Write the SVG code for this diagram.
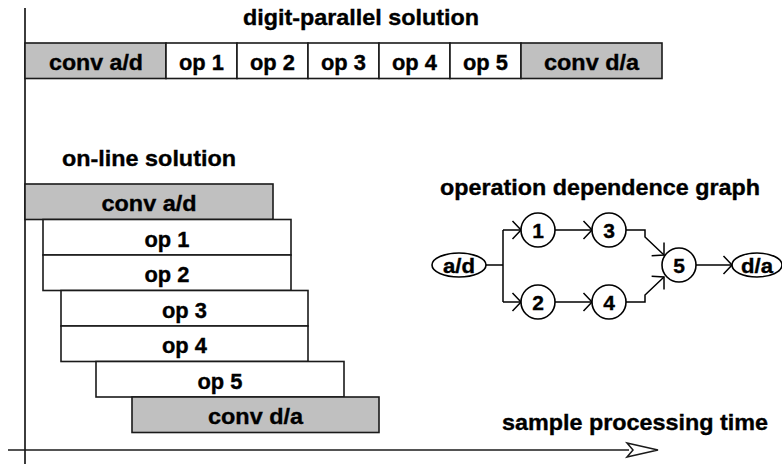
<svg xmlns="http://www.w3.org/2000/svg" width="782" height="464" viewBox="0 0 782 464">
  <style>
    text { font-family: "Liberation Sans", Arial, sans-serif; font-weight: bold; fill: #000; stroke: #000; stroke-width: 0.35; }
    .lbl { font-size: 21.5px; text-anchor: middle; }
    .ttl { font-size: 21.5px; text-anchor: middle; }
    .num { font-size: 21px; text-anchor: middle; }
    .cell { fill: #fff; stroke: #1a1a1a; stroke-width: 1.6; }
    .conv { fill: #c0c0c0; stroke: #1a1a1a; stroke-width: 1.6; }
    .axis { fill: none; stroke: #1a1a1a; stroke-width: 1.7; }
    .node { fill: #fff; stroke: #000; stroke-width: 1.6; }
    .edge { fill: none; stroke: #000; stroke-width: 1.5; }
  </style>
  <defs>
    <marker id="chev" markerUnits="userSpaceOnUse" markerWidth="20" markerHeight="22" viewBox="-10 -11 12 22" refX="0" refY="0" orient="auto">
      <path d="M-8.5,-9 L0,0 L-8.5,9" fill="none" stroke="#000" stroke-width="1.5"/>
    </marker>
  </defs>
  <rect width="782" height="464" fill="#fff"/>

  <!-- time axes -->
  <g id="axes">
    <line class="axis" x1="25" y1="8" x2="25" y2="464"/>
    <line class="axis" x1="8" y1="450" x2="629" y2="450"/>
    <path d="M627,443 L658,450 L627,457 L633,450 Z" fill="#fff" stroke="#1a1a1a" stroke-width="1.5" stroke-linejoin="miter"/>
    <text class="ttl" x="635" y="430" textLength="266" lengthAdjust="spacingAndGlyphs">sample processing time</text>
  </g>

  <!-- digit-parallel schedule: one row of consecutive stages -->
  <g id="digit-parallel">
    <text class="ttl" x="361" y="25" textLength="236" lengthAdjust="spacingAndGlyphs">digit-parallel solution</text>
    <g id="dp-conv-ad">
      <rect class="conv" x="25" y="43" width="141" height="35.5"/>
      <text class="lbl" x="96" y="70" textLength="94" lengthAdjust="spacingAndGlyphs">conv a/d</text>
    </g>
    <g id="dp-op1">
      <rect class="cell" x="166" y="43" width="71" height="35.5"/>
      <text class="lbl" x="201.5" y="70" textLength="45" lengthAdjust="spacingAndGlyphs">op 1</text>
    </g>
    <g id="dp-op2">
      <rect class="cell" x="237" y="43" width="71" height="35.5"/>
      <text class="lbl" x="272.5" y="70" textLength="45" lengthAdjust="spacingAndGlyphs">op 2</text>
    </g>
    <g id="dp-op3">
      <rect class="cell" x="308" y="43" width="71" height="35.5"/>
      <text class="lbl" x="343.5" y="70" textLength="45" lengthAdjust="spacingAndGlyphs">op 3</text>
    </g>
    <g id="dp-op4">
      <rect class="cell" x="379" y="43" width="71" height="35.5"/>
      <text class="lbl" x="414.5" y="70" textLength="45" lengthAdjust="spacingAndGlyphs">op 4</text>
    </g>
    <g id="dp-op5">
      <rect class="cell" x="450" y="43" width="71" height="35.5"/>
      <text class="lbl" x="485.5" y="70" textLength="45" lengthAdjust="spacingAndGlyphs">op 5</text>
    </g>
    <g id="dp-conv-da">
      <rect class="conv" x="521" y="43" width="141" height="35.5"/>
      <text class="lbl" x="591.5" y="70" textLength="95" lengthAdjust="spacingAndGlyphs">conv d/a</text>
    </g>
  </g>

  <!-- on-line schedule: overlapping staggered stages -->
  <g id="on-line">
    <text class="ttl" x="149" y="166" textLength="174" lengthAdjust="spacingAndGlyphs">on-line solution</text>
    <g id="ol-conv-ad">
      <rect class="conv" x="25" y="184" width="248" height="35.5"/>
      <text class="lbl" x="149" y="210.5" textLength="95" lengthAdjust="spacingAndGlyphs">conv a/d</text>
    </g>
    <g id="ol-op1">
      <rect class="cell" x="43" y="219.5" width="248" height="35.5"/>
      <text class="lbl" x="167" y="246.5" textLength="45" lengthAdjust="spacingAndGlyphs">op 1</text>
    </g>
    <g id="ol-op2">
      <rect class="cell" x="43" y="255" width="248" height="35.5"/>
      <text class="lbl" x="167" y="282" textLength="45" lengthAdjust="spacingAndGlyphs">op 2</text>
    </g>
    <g id="ol-op3">
      <rect class="cell" x="61" y="290.5" width="247" height="35.5"/>
      <text class="lbl" x="184.5" y="317.5" textLength="45" lengthAdjust="spacingAndGlyphs">op 3</text>
    </g>
    <g id="ol-op4">
      <rect class="cell" x="61" y="326" width="247" height="35.5"/>
      <text class="lbl" x="184.5" y="353" textLength="45" lengthAdjust="spacingAndGlyphs">op 4</text>
    </g>
    <g id="ol-op5">
      <rect class="cell" x="96" y="361.5" width="248" height="35.5"/>
      <text class="lbl" x="220" y="388.5" textLength="45" lengthAdjust="spacingAndGlyphs">op 5</text>
    </g>
    <g id="ol-conv-da">
      <rect class="conv" x="132" y="397" width="247" height="35.5"/>
      <text class="lbl" x="255.5" y="424" textLength="95" lengthAdjust="spacingAndGlyphs">conv d/a</text>
    </g>
  </g>

  <!-- operation dependence graph -->
  <text class="ttl" x="600" y="195" textLength="320" lengthAdjust="spacingAndGlyphs">operation dependence graph</text>

  <g id="connectors">
    <path class="edge" d="M486,265 H503"/>
    <path class="edge" d="M503,230 V302"/>
    <path class="edge" d="M503,230 H521" marker-end="url(#chev)"/>
    <path class="edge" d="M503,302 H521" marker-end="url(#chev)"/>
    <path class="edge" d="M555,230 H592" marker-end="url(#chev)"/>
    <path class="edge" d="M555,302 H592" marker-end="url(#chev)"/>
    <path class="edge" d="M626,230 H645 V237 L664,255" marker-end="url(#chev)"/>
    <path class="edge" d="M626,302 H645 V295 L664,277" marker-end="url(#chev)"/>
    <path class="edge" d="M696,265 H732" marker-end="url(#chev)"/>
  </g>

  <g id="g-ad">
    <ellipse class="node" cx="459" cy="265" rx="27" ry="12"/>
    <text class="num" x="459" y="272.5" textLength="32" lengthAdjust="spacingAndGlyphs">a/d</text>
  </g>
  <g id="g-1">
    <circle class="node" cx="538" cy="230" r="17"/>
    <text class="num" x="538" y="237.5">1</text>
  </g>
  <g id="g-2">
    <circle class="node" cx="538" cy="302" r="17"/>
    <text class="num" x="538" y="309.5">2</text>
  </g>
  <g id="g-3">
    <circle class="node" cx="609" cy="230" r="17"/>
    <text class="num" x="609" y="237.5">3</text>
  </g>
  <g id="g-4">
    <circle class="node" cx="609" cy="302" r="17"/>
    <text class="num" x="609" y="309.5">4</text>
  </g>
  <g id="g-5">
    <circle class="node" cx="679" cy="265" r="17"/>
    <text class="num" x="679" y="272.5">5</text>
  </g>
  <g id="g-da">
    <ellipse class="node" cx="757" cy="265" rx="25" ry="12"/>
    <text class="num" x="757" y="272.5" textLength="32" lengthAdjust="spacingAndGlyphs">d/a</text>
  </g>
</svg>
